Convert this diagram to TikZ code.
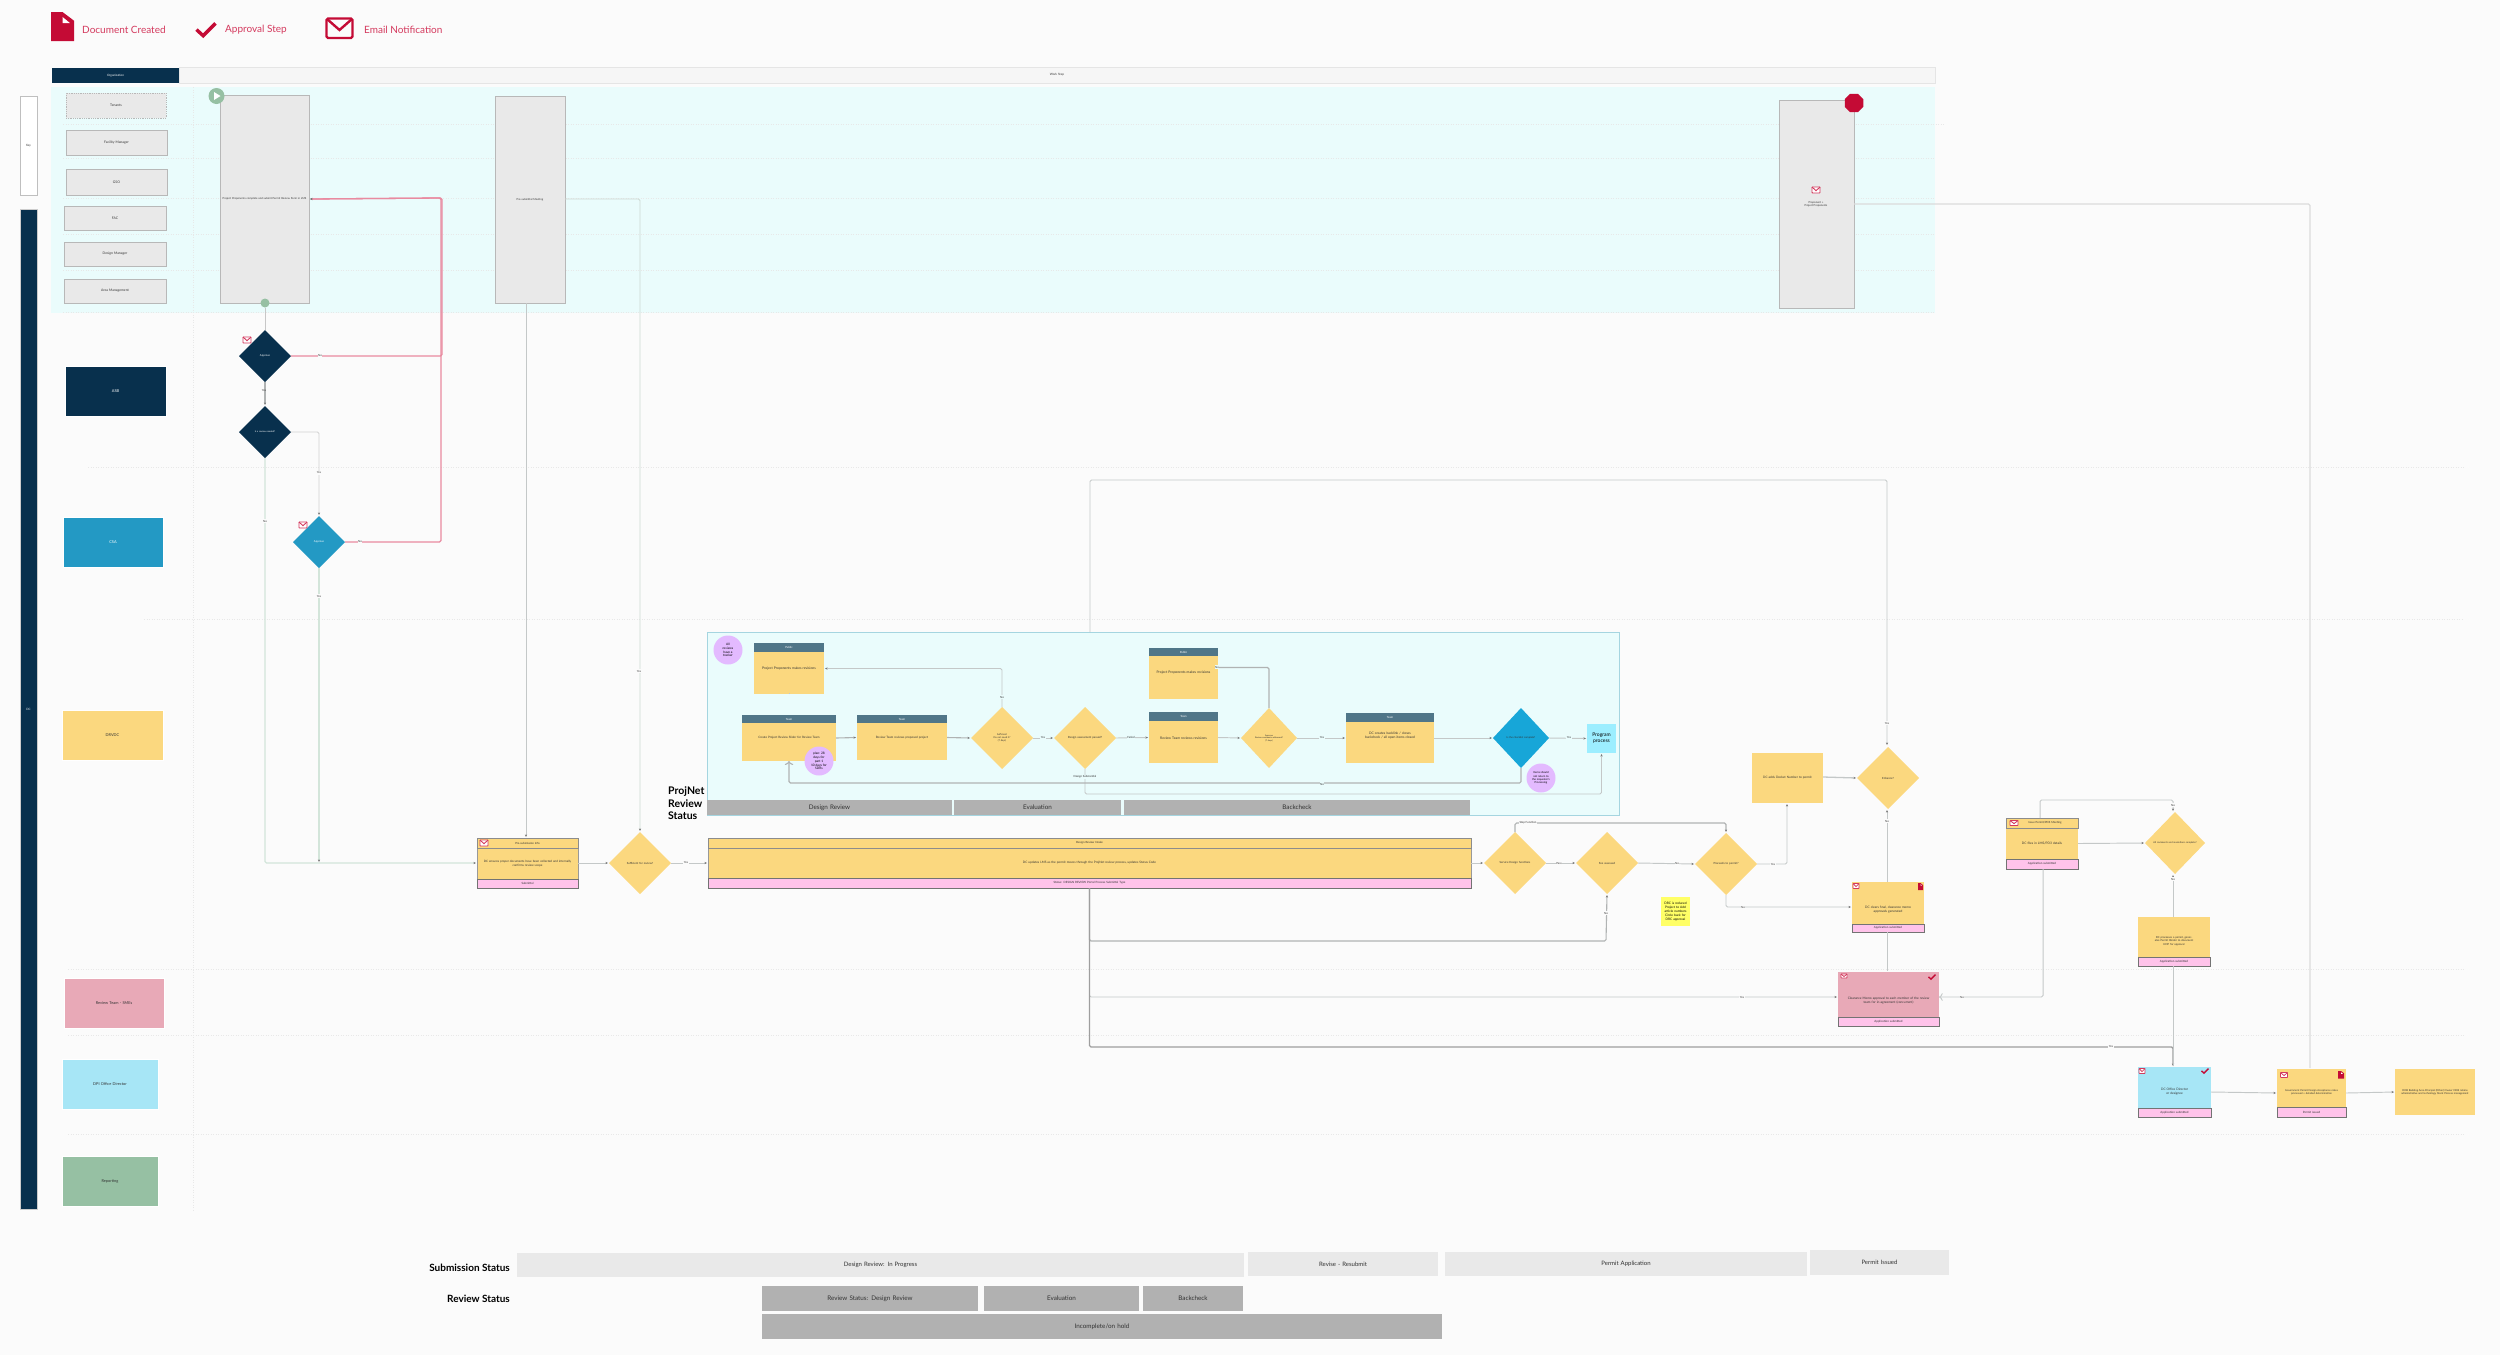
\documentclass[tikz,border=0pt]{standalone}
\usepackage{fontspec}
\setmainfont{Lato}
\usetikzlibrary{shapes.geometric,arrows.meta,calc}
\definecolor{bgc}{HTML}{FBFBFB}
\definecolor{cyanb}{HTML}{EAFCFC}
\definecolor{navy}{HTML}{08304D}
\definecolor{midblue}{HTML}{2399C4}
\definecolor{brblue}{HTML}{17A6D8}
\definecolor{ylw}{HTML}{FBD87F}
\definecolor{pinkr}{HTML}{E8A9B7}
\definecolor{ltblue}{HTML}{A7E6F6}
\definecolor{grn}{HTML}{96C0A3}
\definecolor{gryb}{HTML}{E9E9E9}
\definecolor{grybar}{HTML}{B1B1B1}
\definecolor{crim}{HTML}{C40B35}
\definecolor{crimt}{HTML}{D43A5E}
\definecolor{hdrc}{HTML}{507688}
\definecolor{stripc}{HTML}{FFC3EA}
\definecolor{purp}{HTML}{E3BAFF}
\definecolor{linec}{HTML}{C4C8C8}
\definecolor{lined}{HTML}{B0B3B3}
\definecolor{linep}{HTML}{E98AA0}
\definecolor{lineg}{HTML}{D3E5DA}
\definecolor{tipc}{HTML}{777777}
\definecolor{txtd}{HTML}{333333}
\definecolor{notec}{HTML}{FFFF66}
\definecolor{progc}{HTML}{9CEEFF}
\definecolor{pnb}{HTML}{A5D5E0}
\tikzset{
  fsz/.style={font=\fontsize{#1}{\fpeval{#1*1.2}}\selectfont},
  rectbase/.style={rectangle,inner sep=0pt,outer sep=0pt,align=center,text=txtd},
  gbox/.style={fill=gryb,draw=black!28,line width=.8pt,fsz=3.4},
  lane/.style={draw=white,line width=.5pt,fsz=3.9},
  sticky/.style={fill=ylw,fsz=3.3},
  hdr/.style={fill=hdrc,text=white,fsz=2.8},
  yhdr/.style={fill=ylw,draw=black!45,line width=.7pt,fsz=2.8},
  strip/.style={fill=stripc,draw=black!55,line width=.7pt,fsz=2.9},
  grybar/.style={fill=grybar,fsz=6.3},
  subbar/.style={fill=gryb,fsz=6},
  conn/.style={draw=linec,line width=.95pt,rounded corners=1.5pt,shorten >=1pt,-{Stealth[length=2.6pt,width=2.2pt,color=tipc]}},
  connp/.style={conn,draw=linep,line width=1.3pt},
  conng/.style={conn,draw=lineg,line width=1.3pt},
  connd/.style={conn,draw=lined,line width=1.1pt},
  lbl/.style={fill=bgc,inner sep=.6pt,text=txtd,fsz=2.8},
  lblc/.style={lbl,fill=cyanb},
  purpc/.style={circle,fill=purp,inner sep=0pt,minimum size=29pt,align=center,text=black,fsz=3.2},
  legendt/.style={text=crimt,anchor=west,inner sep=0pt,fsz=10},
  grid/.style={draw=black!9,line width=.6pt,dash pattern=on 1pt off 1.5pt},
}
\newcommand{\mkrect}[7]{%
  \pgfmathsetmacro\rnw{#5-#3}\pgfmathsetmacro\rnh{#6-#4}%
  \pgfmathsetmacro\rnx{(#3+#5)/2}\pgfmathsetmacro\rny{(#4+#6)/2}%
  \pgfmathsetmacro\rnt{max(\rnw-3,1)}%
  \node[rectbase,#2,minimum width=\rnw pt,minimum height=\rnh pt,text width=\rnt pt] (#1) at (\rnx,\rny) {#7};}
% name, fill, cx, cy, half width, half height, text colour, text size, text
\newcommand{\mkdia}[9]{%
  \pgfmathsetmacro\dw{2*#5}\pgfmathsetmacro\dh{2*#6}\pgfmathsetmacro\dt{1.75*#5}%
  \node[diamond,aspect=1,inner sep=0pt,outer sep=0pt,fill=#2,minimum width=\dw pt,minimum height=\dh pt] (#1) at (#3,#4) {};%
  \node[inner sep=0pt,align=center,text width=\dt pt,text=#7,fsz=#8] (#1t) at (#1) {#9};}
\newcommand{\envicon}[5]{%
  \fill[white,rounded corners=.6pt] ({#1-#3/2},{#2-#4/2}) rectangle ({#1+#3/2},{#2+#4/2});
  \draw[crimt,line width=#5 pt,rounded corners=.6pt] ({#1-#3/2},{#2-#4/2}) rectangle ({#1+#3/2},{#2+#4/2});
  \draw[crimt,line width=#5 pt] ({#1-#3/2},{#2-#4/2}) -- (#1,{#2+#4*.12}) -- ({#1+#3/2},{#2-#4/2});}
\newcommand{\docicon}[4]{%
  \fill[crim] (#1,#2) -- ({#1+#3*.5},#2) -- ({#1+#3},{#2+#4*.3}) -- ({#1+#3},{#2+#4}) -- (#1,{#2+#4}) -- cycle;
  \fill[white] ({#1+#3*.5},{#2+#4*.17}) -- ({#1+#3*.82},{#2+#4*.38}) -- ({#1+#3*.5},{#2+#4*.38}) -- cycle;}
\newcommand{\chkicon}[4]{%
  \draw[crim,line width=#4 pt] ({#1-#3*.5},{#2-#3*.02}) -- ({#1-#3*.15},{#2+#3*.3}) -- ({#1+#3*.5},{#2-#3*.35});}
\begin{document}
\begin{tikzpicture}[x=1pt,y=-1pt]
\useasboundingbox (0,0) rectangle (2500,1355);
\fill[bgc] (0,0) rectangle (2500,1355);
% legend
\docicon{51}{12}{23}{29}
\node[legendt] (ldoc) at (82,30) {Document Created};
\chkicon{206}{30}{19}{3.4}
\node[legendt] (lchk) at (225,30) {Approval Step};
\fill[bgc] (326,18) rectangle (353,38);
\draw[crim,line width=2.4pt,rounded corners=1.5pt] (326.5,18.5) rectangle (352.5,38);
\draw[crim,line width=2.4pt] (327,19) -- (339.5,30) -- (352,19);
\node[legendt] (lenv) at (364,30) {Email Notification};
% bands
\fill[cyanb] (51,87) rectangle (1935,313);
\mkrect{hwhite}{fill=white!60!gryb,draw=black!10,line width=.8pt,fsz=3}{179}{67}{1935}{83}{Work Step}
\mkrect{hdark}{fill=navy,text=white,fsz=3}{52}{68}{179}{83}{Organization}
\foreach \yy/\xs/\xe in {124/63/1945,158/63/1935,198/63/1935,234/63/1935,270/63/1935,312/63/1935,467/88/2464,619/144/2464,969/68/2464,1035/68/2464,1134/68/2464}
  \draw[grid] (\xs,\yy) -- (\xe,\yy);
\draw[grid] (193,87) -- (193,1210);
% side bars
\mkrect{sidew}{fill=white,draw=black!25,line width=.8pt,fsz=3}{20}{96}{37}{195}{Key}
\mkrect{sided}{fill=navy,draw=black!20,line width=.6pt,text=white,fsz=3}{20}{209}{37}{1209}{DC}
% top lanes
\mkrect{g1}{gbox,densely dotted}{66}{93}{166}{118}{Tenants}
\mkrect{g2}{gbox}{66}{130}{167}{155}{Facility Manager}
\mkrect{g3}{gbox}{66}{169}{167}{195}{GSO}
\mkrect{g4}{gbox}{64}{206}{166}{230}{FAC}
\mkrect{g5}{gbox}{64}{242}{166}{266}{Design Manager}
\mkrect{g6}{gbox}{64}{279}{166}{303}{Area Management}
\mkrect{laneA}{lane,fill=navy,text=white}{65}{366}{166}{416}{ASB}
\mkrect{laneB}{lane,fill=midblue,text=white}{63}{517}{163}{567}{CSA}
\mkrect{laneC}{lane,fill=ylw}{62}{710}{163}{760}{DRVDC}
\mkrect{laneD}{lane,fill=pinkr}{64}{978}{164}{1028}{Review Team - SMEs}
\mkrect{laneE}{lane,fill=ltblue}{62}{1059}{158}{1109}{DPI Office Director}
\mkrect{laneF}{lane,fill=grn}{62}{1156}{158}{1206}{Reporting}
% big grey steps
\mkrect{A}{gbox,fsz=2.7}{220}{95}{309}{303}{Project Proponents complete and submit Permit Review Form in LMS}
\mkrect{B}{gbox,fsz=2.7}{495}{96}{565}{303}{Pre-submittal Meeting}
\mkrect{C}{gbox,fsz=2.7}{1779}{100}{1854}{308}{}
\node[inner sep=0pt,align=center,text=txtd,fsz=2.7] (Ct) at (1816,204.5) {Proponent +\\Project Proponents};
\node[circle,fill=grn,minimum size=16pt,inner sep=0pt] (start) at (216.5,96) {};
\fill[white] (214,92) -- (214,100) -- (220.5,96) -- cycle;
\node[circle,fill=grn,minimum size=9pt,inner sep=0pt] (startb) at (265,303) {};
\node[regular polygon,regular polygon sides=8,fill=crim,minimum size=20pt,inner sep=0pt] (stop) at (1854,103) {};
% approvals
\mkdia{D1}{navy}{265}{356}{26}{26}{white}{2.7}{Approve}
\mkdia{D2}{navy}{265}{432}{26}{26}{white}{2.3}{Is a review needed?}
\mkdia{D3}{midblue}{319}{542}{26}{26}{white}{2.7}{Approve}
% intake card
\mkrect{T1}{sticky,draw=black!40,line width=.7pt}{477}{838}{578}{888}{}
\mkrect{T1h}{yhdr}{477}{838}{578}{848}{Pre-submission Info}
\mkrect{T1f}{strip}{477}{879}{578}{888}{Submittal}
\mkrect{T1b}{sticky,fsz=3,fill=none}{477}{848}{578}{879}{DC ensures proper documents have been collected and internally\\confirms review scope}
\mkdia{Q1}{ylw}{640}{863}{31}{31}{txtd}{2.8}{Sufficient for review?}
% big task
\mkrect{BT}{sticky,draw=black!40,line width=.7pt}{708}{838}{1471}{888}{}
\mkrect{BTh}{yhdr}{708}{838}{1471}{848}{Design Review Intake}
\mkrect{BTf}{strip}{708}{878}{1471}{888}{Status: DESIGN REVIEW Portal Process Submittal Type}
\mkrect{BTb}{sticky,fsz=3.1,fill=none}{708}{848}{1471}{878}{DC updates LMS as the permit moves through the ProjNet review process, updates Status Code}
% projnet box
\mkrect{PN}{fill=cyanb,draw=pnb,line width=.8pt}{707}{632}{1619}{815}{}
\node[anchor=north west,inner sep=0pt,align=left,text=black,font=\fontsize{10.5}{12.5}\selectfont\bfseries] (PNl) at (668,787) {ProjNet\\Review\\Status};
\mkrect{S1}{grybar}{707}{800}{952}{815}{Design Review}
\mkrect{S2}{grybar}{954}{800}{1121}{815}{Evaluation}
\mkrect{S3}{grybar}{1124}{800}{1470}{815}{Backcheck}
\node[purpc] (pc1) at (728,650) {All\\reviews\\have a\\tracker};
\mkrect{P1}{sticky}{754}{643}{824}{694}{}
\mkrect{P1h}{hdr}{754}{643}{824}{652}{Public}
\mkrect{P1b}{sticky,fsz=3.4,fill=none}{754}{652}{824}{686}{Project Proponents makes revisions}
\mkrect{R1}{sticky}{742}{715}{836}{761}{}
\mkrect{R1h}{hdr}{742}{715}{836}{723}{Team}
\mkrect{R1b}{sticky,fsz=3,fill=none}{742}{723}{836}{753}{Create Project Review Slider for Review Team}
\mkrect{R2}{sticky}{857}{715}{947}{760}{}
\mkrect{R2h}{hdr}{857}{715}{947}{723}{Team}
\mkrect{R2b}{sticky,fsz=3,fill=none}{857}{723}{947}{753}{Review Team reviews proposed project}
\node[purpc] (pc2) at (819,761) {plan: 28\\days for\\part 1\\10 days for\\SDRs};
\mkdia{E1}{ylw}{1002}{738}{31}{31}{txtd}{2.4}{Sufficient\\Do not need it?\\(7 days)}
\mkdia{E2}{ylw}{1085}{738}{31}{31}{txtd}{2.8}{Design assessment passed?}
\mkrect{P2}{sticky}{1149}{648}{1218}{699}{}
\mkrect{P2h}{hdr}{1149}{648}{1218}{656}{Public}
\mkrect{P2b}{sticky,fsz=3.4,fill=none}{1149}{656}{1218}{690}{Project Proponents makes revisions}
\mkrect{R3}{sticky}{1149}{712}{1218}{763}{}
\mkrect{R3h}{hdr}{1149}{712}{1218}{721}{Team}
\mkrect{R3b}{sticky,fsz=3.4,fill=none}{1149}{721}{1218}{755}{Review Team reviews revisions}
\mkdia{E3}{ylw}{1269}{738}{28}{30}{txtd}{2.1}{Approve\\Review comments addressed?\\(7 days)}
\mkrect{R4}{sticky}{1346}{713}{1434}{763}{}
\mkrect{R4h}{hdr}{1346}{713}{1434}{722}{Team}
\mkrect{R4b}{sticky,fsz=3.3,fill=none}{1346}{722}{1434}{749}{DC creates backlink / closes backcheck / all open items closed}
\mkdia{E4}{brblue}{1521}{738}{28}{30}{txtd}{2.5}{Is the checklist complete?}
\mkrect{PG}{fill=progc,fsz=5,text=black}{1587}{724}{1616}{753}{Program\\process}
\node[purpc,fsz=2.7] (pc3) at (1541,778) {Items should\\not return to\\the requestor's\\Processing};
% post review
\mkdia{F1}{ylw}{1515}{863}{31}{31}{txtd}{2.8}{Service Design functions}
\mkdia{F2}{ylw}{1607}{863}{31}{31}{txtd}{2.8}{Fee assessed}
\mkdia{F3}{ylw}{1726}{864}{31}{31}{txtd}{2.8}{Proceeds to permit?}
\mkrect{G}{sticky,fsz=3.1}{1752}{753}{1823}{803}{DC adds Docket Number to permit}
\mkdia{F4}{ylw}{1888}{778}{31}{31}{txtd}{2.8}{Enhance?}
\mkrect{NOTE}{fill=notec,text=black,fsz=3.2}{1661}{897}{1690}{926}{DRC is reduced\\Project to Add\\article numbers\\Circle back for\\DRC approval}
\mkrect{H}{sticky}{1852}{882}{1924}{932}{}
\mkrect{Hf}{strip}{1852}{924}{1924}{932}{Application submitted}
\mkrect{Hb}{sticky,fsz=3.2,fill=none}{1852}{895}{1924}{924}{DC clears final, clearance memo\\approvals generated}
\mkrect{I}{fill=pinkr}{1838}{972}{1939}{1026}{}
\mkrect{If}{strip}{1838}{1017}{1939}{1026}{Application submitted}
\mkrect{Ib}{fill=none,fsz=3.2}{1838}{984}{1939}{1017}{Clearance Memo approval to each member of the review\\team for in-agreement (concurrent)}
\mkrect{J}{sticky}{2006}{818}{2078}{869}{}
\mkrect{Jh}{yhdr}{2006}{818}{2078}{828}{\hspace{6pt}Issue Permit/PDS Meeting}
\mkrect{Jf}{strip}{2006}{859}{2078}{869}{Application submitted}
\mkrect{Jb}{sticky,fsz=3.2,fill=none}{2006}{828}{2078}{859}{DC files in LMS/PD3 details}
\mkdia{F5}{ylw}{2175}{843}{30}{31}{txtd}{2.4}{All comments and resolutions complete?}
\mkrect{K}{sticky}{2138}{917}{2210}{966}{}
\mkrect{Kf}{strip}{2138}{957}{2210}{966}{Application submitted}
\mkrect{Kb}{sticky,fsz=2.7,fill=none}{2138}{925}{2210}{957}{DC processes a permit, generates Permit Binder to document\\HDP for approval}
\mkrect{L}{fill=ltblue}{2138}{1067}{2211}{1117}{}
\mkrect{Lf}{strip}{2138}{1108}{2211}{1117}{Application submitted}
\mkrect{Lb}{fill=none,fsz=3.2}{2138}{1075}{2211}{1108}{DC Office Director\\or designee}
\mkrect{M}{sticky}{2277}{1069}{2346}{1117}{}
\mkrect{Mf}{strip}{2277}{1107}{2346}{1117}{Permit issued}
\mkrect{Mb}{sticky,fsz=2.6,fill=none}{2277}{1077}{2346}{1107}{Government Permit Design Acceptance notes\\processed + detailed determination}
\mkrect{N}{sticky,fsz=2.6}{2395}{1069}{2475}{1115}{DOB Building Area Principal (Other) Owner DOB retains\\administrative and technology Stock Process management}
% bottom status
\node[anchor=east,inner sep=0pt,text=black,font=\fontsize{10}{12}\selectfont\bfseries] (subl) at (510,1268) {Submission Status};
\node[anchor=east,inner sep=0pt,text=black,font=\fontsize{10}{12}\selectfont\bfseries] (revl) at (510,1299) {Review Status};
\mkrect{B1}{subbar}{517}{1253}{1244}{1277}{Design Review: In Progress}
\mkrect{B2}{subbar}{1248}{1252}{1438}{1276}{Revise - Resubmit}
\mkrect{B3}{subbar}{1445}{1252}{1807}{1276}{Permit Application}
\mkrect{B4}{subbar}{1810}{1250}{1949}{1275}{Permit Issued}
\mkrect{C1}{grybar}{762}{1286}{978}{1311}{Review Status: Design Review}
\mkrect{C2}{grybar}{984}{1286}{1139}{1311}{Evaluation}
\mkrect{C3}{grybar}{1143}{1286}{1243}{1311}{Backcheck}
\mkrect{C4}{grybar}{762}{1314}{1442}{1339}{Incomplete/on hold}
% bend coordinates
\coordinate (pkA) at (442,198);
\coordinate (pk3) at (441,198);
\coordinate (tN) at (1090,480);
\coordinate (pnout) at (1090,632);
\coordinate (f4top) at (1887,746);
\coordinate (hbot) at (1887,932);
\coordinate (itop) at (1887,972);
\coordinate (hup) at (1887,882);
\coordinate (f4bot) at (1887,809);
\coordinate (Bdown) at (526,303);
\coordinate (T1up) at (526,838);
\coordinate (Bright) at (565,199);
\coordinate (gdown) at (1787,803);
\coordinate (f3e) at (1757,864);
\coordinate (f3g) at (1787,864);
\coordinate (cright) at (1854,204);
\coordinate (cright2) at (2310,204);
\coordinate (mtop) at (2310,1069);
\coordinate (jtop) at (2040,818);
\coordinate (jtopb) at (2040,800);
\coordinate (jdown) at (2043,869);
\coordinate (ir) at (1939,997);
\coordinate (il) at (1838,997);
\coordinate (hl) at (1852,907);
\coordinate (gr) at (1823,777);
\coordinate (ptop) at (2173,917);
\coordinate (ltop) at (2173,1067);
\coordinate (f5t) at (2173,812);
\coordinate (f5b) at (2173,874);
\coordinate (kb) at (2173,966);
% connectors top
\draw[conn,-,shorten >=0pt,draw=black!22] (startb) -- (D1);
\draw[connd] (D1.south) -- (D2.north);
\draw[connp] (D1.east) -| (pkA) -- (A.east);
\draw[connp] (D3.east) -| (pk3) -- (A.east);
\draw[conn,draw=black!18] (D2.east) -| (D3.north);
\draw[conng] (D2.south) |- (T1.west);
\draw[conng] (D3.south) -- (D3.south |- T1.west);
\draw[conn] (Bdown) -- (T1up);
\draw[conn,draw=lineg!60!linec] (Bright) -| (Q1.north);
\draw[conn] (T1.east) -- (Q1.west);
\draw[conn] (Q1.east) -- (BT.west);
% connectors projnet
\draw[conn,draw=linec] (E1.north) |- (P1.east);
\draw[conn,-] (P1.south) -- (P1.south -| R1.north);
\draw[connd] (R1.east) -- (R2.west);
\draw[connd] (R2.east) -- (E1.west);
\draw[conn] (E1.east) -- (E2.west);
\draw[conn] (E2.east) -- (R3.west);
\coordinate (e2b) at (1085,794);
\draw[conn] (E2.south) |- (e2b) -| (PG.south);
\coordinate (r1b) at (789,783);
\draw[connd,<-,shorten >=0pt,shorten <=0pt] (R1.south) |- (r1b) -| (E4.south);
\draw[conn] (R3.east) -- (E3.west);
\draw[connd,-] (E3.north) |- ([yshift=6pt]P2.east);
\draw[conn] (E3.east) -- (R4.west);
\draw[conn] (R4.east) -- (E4.west);
\draw[conn] (E4.east) -- (PG.west);
% connectors post
\draw[conn] (pnout) -- (tN) -| (f4top);
\draw[conn] (BT.east) -- (F1.west);
\draw[conn] (F1.east) -- (F2.west);
\draw[conn] (F2.east) -- (F3.west);
\coordinate (f1up) at (1515,823);
\draw[connd] (F1.north) -- (f1up) -| (F3.north);
\draw[conn] (f3e) -- (f3g) -- (gdown);
\draw[conn,line width=1.3pt] (gr) -- (F4.west);
\draw[conn] (hup) -- (f4bot);
\coordinate (f3b) at (1726,907);
\draw[conn] (F3.south) -- (f3b) -- (hl);
\coordinate (f2l) at (1089.5,941);
\coordinate (f2r) at (1606,941);
\draw[connd] (BT.south) -- (f2l) -- (f2r) -- (F2.south);
\coordinate (b1l) at (1089.5,997);
\draw[conn] (BT.south) -- (b1l) -- (il);
\coordinate (b2l) at (1089.5,1047);
\coordinate (b2r) at (2173,1047);
\draw[connd,line width=1.4pt,draw=black!38] (BT.south) -- (b2l) -- (b2r) -- (ltop);
\draw[conn,-] (hbot) -- (itop);
\draw[conn,<-,shorten >=0pt,shorten <=0pt] (ir) -| (jdown);
\draw[conn] (J.east) -- (F5.west);
\draw[conn] (jtop) -- (jtopb) -| (f5t);
\draw[conn] (ptop) -- (f5b);
\draw[conn,-] (kb) -- (ltop);
\draw[conn] (L.east) -- (M.west);
\draw[conn] (M.east) -- (N.west);
\draw[conn,line width=1.3pt,draw=black!14,-] (cright) -- (cright2) -- (mtop);
% labels
\node[lbl,fill=none] (l1) at (264,391) {Yes};
\node[lbl] (l2) at (320,355) {No};
\node[lbl] (l3) at (360,541) {No};
\node[lbl] (l4) at (319,473) {Yes};
\node[lbl] (l5) at (265,521) {No};
\node[lbl] (l6) at (319,596) {Yes};
\node[lbl] (l7) at (686,862) {Yes};
\node[lbl] (l8) at (639,671) {Yes};
\node[lblc] (l9) at (1002,697) {No};
\node[lblc] (l10) at (1043,737) {Yes};
\node[lblc] (l11) at (1131,737) {Failed};
\node[lblc] (l12) at (1085,777) {Design Substantial};
\node[lblc] (l13) at (1322,784) {No};
\node[lblc] (l14) at (1217,667) {No};
\node[lblc] (l15) at (1322,737) {Yes};
\node[lblc] (l16) at (1569,737) {Yes};
\node[lbl] (l17) at (1887,723) {Yes};
\node[lbl] (l18) at (1559,863) {Pass};
\node[lbl] (l19) at (1677,863) {No};
\node[lbl] (l20) at (1528,823) {Step Function};
\node[lbl] (l21) at (1773,864) {Yes};
\node[lbl] (l22) at (1887,821) {No};
\node[lbl] (l23) at (1743,907) {No};
\node[lbl] (l24) at (1606,913) {No};
\node[lbl] (l25) at (1742,997) {Yes};
\node[lbl] (l26) at (1962,997) {No};
\node[lbl] (l27) at (2111,1046) {Yes};
\node[lbl] (l28) at (2173,805) {No};
\node[lbl] (l29) at (2173,879) {No};
% small icons
\envicon{247}{340}{8}{6}{.9}
\envicon{303}{525}{8}{6}{.9}
\envicon{1816}{190}{8}{6}{.9}
\envicon{484}{843}{8}{6}{.9}
\envicon{1856}{886}{6}{5}{.8}
\docicon{1918}{883}{5}{7}
\envicon{1844}{976}{6}{4}{.8}
\chkicon{1932}{977}{7}{1.4}
\envicon{2014}{823}{8}{5}{.9}
\envicon{2142}{1071}{6}{5}{.8}
\chkicon{2205}{1071}{7}{1.4}
\envicon{2284}{1075}{7}{5}{.8}
\docicon{2338}{1071}{6}{7.5}
\end{tikzpicture}
\end{document}
